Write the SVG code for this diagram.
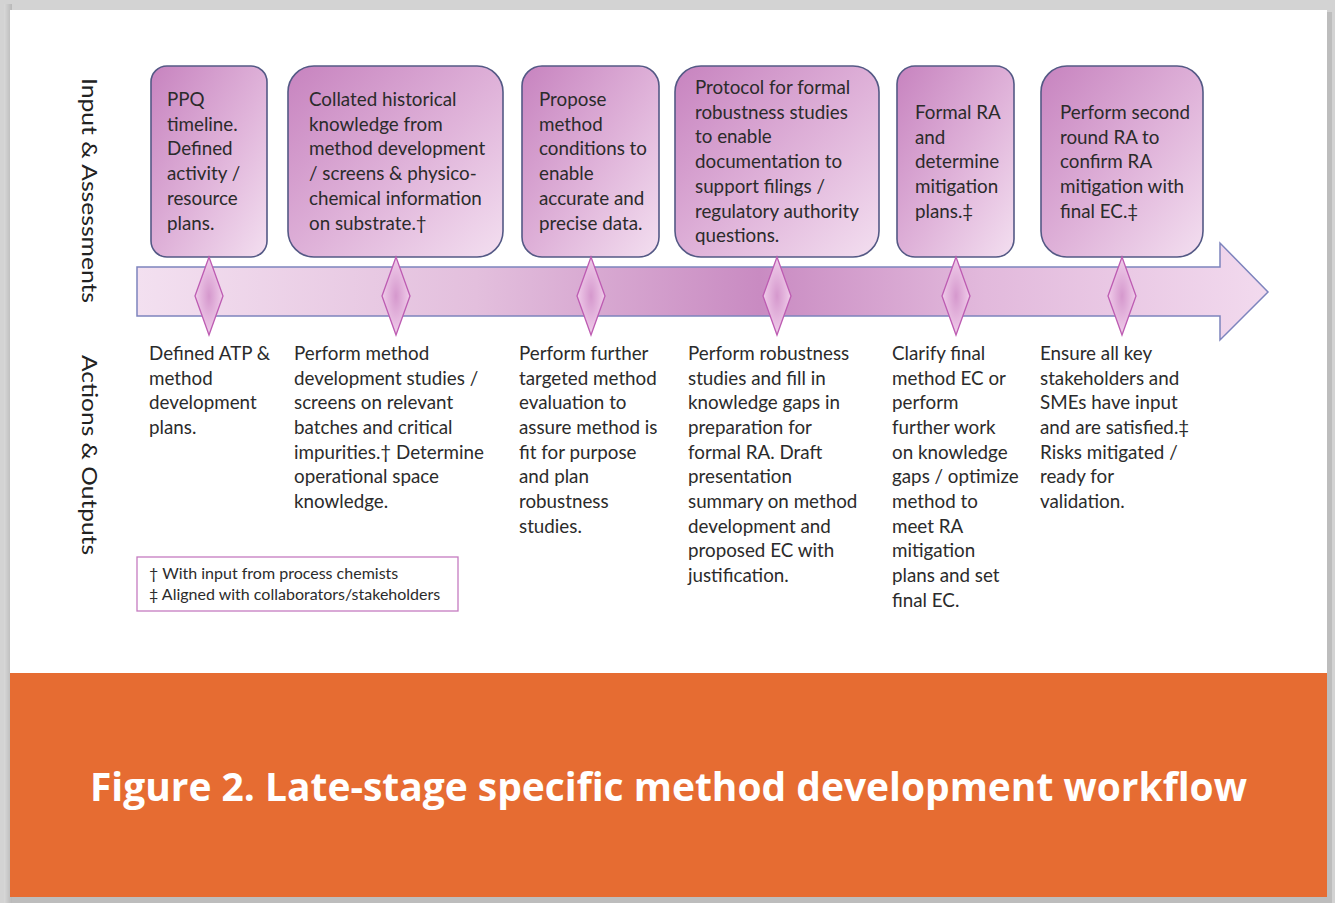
<svg xmlns="http://www.w3.org/2000/svg" width="1335" height="903" viewBox="0 0 1335 903">
<defs>
<linearGradient id="boxGrad" x1="0" y1="0" x2="1" y2="1">
<stop offset="0" stop-color="#c783bf"/>
<stop offset="0.55" stop-color="#e0b4da"/>
<stop offset="1" stop-color="#f3dff0"/>
</linearGradient>
<linearGradient id="arrowGrad" x1="137" y1="0" x2="1268" y2="0" gradientUnits="userSpaceOnUse">
<stop offset="0" stop-color="#f3e0f0"/>
<stop offset="0.3" stop-color="#e3bfdd"/>
<stop offset="0.55" stop-color="#c98bc2"/>
<stop offset="0.75" stop-color="#e2b9dc"/>
<stop offset="1" stop-color="#f2daee"/>
</linearGradient>
<radialGradient id="diaGrad" cx="0.5" cy="0.5" r="0.5">
<stop offset="0" stop-color="#d598cd"/>
<stop offset="1" stop-color="#f0cdea"/>
</radialGradient>
<linearGradient id="shadowL" x1="0" y1="0" x2="1" y2="0">
<stop offset="0" stop-color="#d8d8d8"/>
<stop offset="1" stop-color="#b8b8b8"/>
</linearGradient>
</defs>
<style>
.box{fill:url(#boxGrad);stroke:#545985;stroke-width:1.6}
.dia{fill:url(#diaGrad);stroke:#bd5cb2;stroke-width:1.3}
.t{font-family:Lato,"Open Sans","Liberation Sans",sans-serif;font-size:18.8px;fill:#2b2b2b}
.side{font-family:Lato,"Open Sans","Liberation Sans",sans-serif;font-size:21px;fill:#222222}
.leg{font-family:Lato,"Open Sans","Liberation Sans",sans-serif;font-size:16px;fill:#2b2b2b}
.title{font-family:"Open Sans",Lato,"Liberation Sans",sans-serif;font-size:40px;font-weight:bold;fill:#ffffff}
</style>

<rect x="0" y="0" width="1335" height="903" fill="#d3d3d3"/>
<rect x="4" y="4" width="8" height="899" fill="url(#shadowL)"/>
<rect x="12" y="12" width="1320" height="891" fill="#bdbdbd"/>
<rect x="10" y="10" width="1317" height="887" fill="#ffffff"/>
<rect x="10" y="673" width="1317" height="224" fill="#e66c32"/>

<text class="title" x="90" y="801" textLength="1157" lengthAdjust="spacingAndGlyphs">Figure 2. Late-stage specific method development workflow</text>

<text class="side" transform="translate(82,78) rotate(90)" textLength="225" lengthAdjust="spacingAndGlyphs">Input &amp; Assessments</text>
<text class="side" transform="translate(82,355) rotate(90)" textLength="200" lengthAdjust="spacingAndGlyphs">Actions &amp; Outputs</text>

<g id="timeline">
<path d="M137,267 L1220,267 L1220,243 L1268,292 L1220,340 L1220,316 L137,316 Z" fill="url(#arrowGrad)" stroke="#7d84bd" stroke-width="1.5"/>
</g>

<g id="box1">
<rect class="box" x="151" y="66" width="116" height="191" rx="16"/>
<text class="t" x="167" y="106"><tspan x="167">PPQ</tspan><tspan x="167" dy="24.7">timeline.</tspan><tspan x="167" dy="24.7">Defined</tspan><tspan x="167" dy="24.7">activity /</tspan><tspan x="167" dy="24.7">resource</tspan><tspan x="167" dy="24.7">plans.</tspan></text>
</g>
<g id="box2">
<rect class="box" x="288" y="66" width="215" height="191" rx="26"/>
<text class="t" x="309" y="106"><tspan x="309">Collated historical</tspan><tspan x="309" dy="24.7">knowledge from</tspan><tspan x="309" dy="24.7">method development</tspan><tspan x="309" dy="24.7">/ screens &amp; physico-</tspan><tspan x="309" dy="24.7">chemical information</tspan><tspan x="309" dy="24.7">on substrate.†</tspan></text>
</g>
<g id="box3">
<rect class="box" x="522" y="66" width="137" height="191" rx="20"/>
<text class="t" x="539" y="106"><tspan x="539">Propose</tspan><tspan x="539" dy="24.7">method</tspan><tspan x="539" dy="24.7">conditions to</tspan><tspan x="539" dy="24.7">enable</tspan><tspan x="539" dy="24.7">accurate and</tspan><tspan x="539" dy="24.7">precise data.</tspan></text>
</g>
<g id="box4">
<rect class="box" x="675" y="66" width="204" height="191" rx="26"/>
<text class="t" x="695" y="94"><tspan x="695">Protocol for formal</tspan><tspan x="695" dy="24.7">robustness studies</tspan><tspan x="695" dy="24.7">to enable</tspan><tspan x="695" dy="24.7">documentation to</tspan><tspan x="695" dy="24.7">support filings /</tspan><tspan x="695" dy="24.7">regulatory authority</tspan><tspan x="695" dy="24.7">questions.</tspan></text>
</g>
<g id="box5">
<rect class="box" x="897" y="66" width="117" height="191" rx="18"/>
<text class="t" x="915" y="119"><tspan x="915">Formal RA</tspan><tspan x="915" dy="24.7">and</tspan><tspan x="915" dy="24.7">determine</tspan><tspan x="915" dy="24.7">mitigation</tspan><tspan x="915" dy="24.7">plans.‡</tspan></text>
</g>
<g id="box6">
<rect class="box" x="1041" y="66" width="162" height="191" rx="26"/>
<text class="t" x="1060" y="119"><tspan x="1060">Perform second</tspan><tspan x="1060" dy="24.7">round RA to</tspan><tspan x="1060" dy="24.7">confirm RA</tspan><tspan x="1060" dy="24.7">mitigation with</tspan><tspan x="1060" dy="24.7">final EC.‡</tspan></text>
</g>

<g id="connectors">
<path class="dia" d="M209,257 L223,296 L209,335 L195,296 Z"/>
<path class="dia" d="M396,257 L410,296 L396,335 L382,296 Z"/>
<path class="dia" d="M591,257 L605,296 L591,335 L577,296 Z"/>
<path class="dia" d="M777,257 L791,296 L777,335 L763,296 Z"/>
<path class="dia" d="M956,257 L970,296 L956,335 L942,296 Z"/>
<path class="dia" d="M1122,257 L1136,296 L1122,335 L1108,296 Z"/>
</g>

<g id="out1">
<text class="t" x="149" y="360"><tspan x="149">Defined ATP &amp;</tspan><tspan x="149" dy="24.65">method</tspan><tspan x="149" dy="24.65">development</tspan><tspan x="149" dy="24.65">plans.</tspan></text>
</g>
<g id="out2">
<text class="t" x="294" y="360"><tspan x="294">Perform method</tspan><tspan x="294" dy="24.65">development studies /</tspan><tspan x="294" dy="24.65">screens on relevant</tspan><tspan x="294" dy="24.65">batches and critical</tspan><tspan x="294" dy="24.65">impurities.† Determine</tspan><tspan x="294" dy="24.65">operational space</tspan><tspan x="294" dy="24.65">knowledge.</tspan></text>
</g>
<g id="out3">
<text class="t" x="519" y="360"><tspan x="519">Perform further</tspan><tspan x="519" dy="24.65">targeted method</tspan><tspan x="519" dy="24.65">evaluation to</tspan><tspan x="519" dy="24.65">assure method is</tspan><tspan x="519" dy="24.65">fit for purpose</tspan><tspan x="519" dy="24.65">and plan</tspan><tspan x="519" dy="24.65">robustness</tspan><tspan x="519" dy="24.65">studies.</tspan></text>
</g>
<g id="out4">
<text class="t" x="688" y="360"><tspan x="688">Perform robustness</tspan><tspan x="688" dy="24.65">studies and fill in</tspan><tspan x="688" dy="24.65">knowledge gaps in</tspan><tspan x="688" dy="24.65">preparation for</tspan><tspan x="688" dy="24.65">formal RA. Draft</tspan><tspan x="688" dy="24.65">presentation</tspan><tspan x="688" dy="24.65">summary on method</tspan><tspan x="688" dy="24.65">development and</tspan><tspan x="688" dy="24.65">proposed EC with</tspan><tspan x="688" dy="24.65">justification.</tspan></text>
</g>
<g id="out5">
<text class="t" x="892" y="360"><tspan x="892">Clarify final</tspan><tspan x="892" dy="24.65">method EC or</tspan><tspan x="892" dy="24.65">perform</tspan><tspan x="892" dy="24.65">further work</tspan><tspan x="892" dy="24.65">on knowledge</tspan><tspan x="892" dy="24.65">gaps / optimize</tspan><tspan x="892" dy="24.65">method to</tspan><tspan x="892" dy="24.65">meet RA</tspan><tspan x="892" dy="24.65">mitigation</tspan><tspan x="892" dy="24.65">plans and set</tspan><tspan x="892" dy="24.65">final EC.</tspan></text>
</g>
<g id="out6">
<text class="t" x="1040" y="360"><tspan x="1040">Ensure all key</tspan><tspan x="1040" dy="24.65">stakeholders and</tspan><tspan x="1040" dy="24.65">SMEs have input</tspan><tspan x="1040" dy="24.65">and are satisfied.‡</tspan><tspan x="1040" dy="24.65">Risks mitigated /</tspan><tspan x="1040" dy="24.65">ready for</tspan><tspan x="1040" dy="24.65">validation.</tspan></text>
</g>

<g id="legend">
<rect x="137" y="557" width="321" height="54" fill="#ffffff" stroke="#c57bc0" stroke-width="1.3"/>
<text class="leg" x="149" y="579"><tspan x="149">† With input from process chemists</tspan><tspan x="149" dy="21">‡ Aligned with collaborators/stakeholders</tspan></text>
</g>
</svg>
